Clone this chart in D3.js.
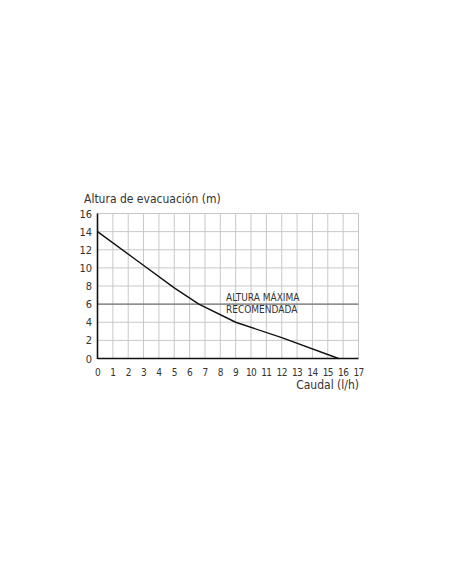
<!DOCTYPE html>
<html><head><meta charset="utf-8">
<script src="https://cdn.jsdelivr.net/npm/d3@7"></script>
<style>body{margin:0;background:#fff}svg{display:block}text{font-family:"DejaVu Sans Condensed","DejaVu Sans",sans-serif;font-stretch:condensed}</style>
</head><body><svg id="c" width="452" height="584"></svg>
<script>
const xTicks = d3.range(0, 18);
const yTicks = [0, 2, 4, 6, 8, 10, 12, 14, 16];
const flow = [0, 2.5, 5, 6.6, 9, 12, 15.7];
const head = [14, 10.9, 7.8, 6, 4, 2.3, 0];
const recommendedMax = 6;
const titleY = "Altura de evacuación (m)";
const titleX = "Caudal (l/h)";
const note = ["ALTURA MÁXIMA", "RECOMENDADA"];

const svg = d3.select("#c");
const x = d3.scaleLinear().domain([0, 17]).range([97.5, 358.5]);
const y = d3.scaleLinear().domain([0, 16]).range([358.5, 213.5]);

const g = svg.append("g");
g.selectAll(".vg").data(xTicks.slice(1)).join("line")
  .attr("x1", d => x(d)).attr("x2", d => x(d)).attr("y1", y(0)).attr("y2", y(16))
  .attr("stroke", "#c8c8c8").attr("stroke-width", 1);
g.selectAll(".hg").data(yTicks.slice(1)).join("line")
  .attr("x1", x(0)).attr("x2", x(17)).attr("y1", d => y(d)).attr("y2", d => y(d))
  .attr("stroke", "#c8c8c8").attr("stroke-width", 1);

g.append("line").attr("x1", x(0)).attr("x2", x(17)).attr("y1", y(recommendedMax)).attr("y2", y(recommendedMax))
  .attr("stroke", "#777").attr("stroke-width", 1.2);

g.append("path").datum(flow.map((f, i) => [f, head[i]]))
  .attr("d", d3.line().x(d => x(d[0])).y(d => y(d[1])))
  .attr("fill", "none").attr("stroke", "#111").attr("stroke-width", 1.4).attr("stroke-linejoin", "round");

g.append("line").attr("x1", x(0)).attr("x2", x(0)).attr("y1", y(0)+0.5).attr("y2", y(16))
  .attr("stroke", "#111").attr("stroke-width", 1.6);
g.append("line").attr("x1", x(0)).attr("x2", x(17)).attr("y1", y(0)).attr("y2", y(0))
  .attr("stroke", "#111").attr("stroke-width", 1.6);

g.selectAll(".yl").data(yTicks).join("text")
  .attr("x", 92).attr("y", d => y(d) + 4).attr("text-anchor", "end")
  .attr("font-size", 11).attr("fill", "#333").text(d => d);
g.selectAll(".xl").data(xTicks).join("text")
  .attr("x", d => x(d)).attr("y", 376).attr("text-anchor", "middle")
  .attr("font-size", 10).attr("letter-spacing", -0.6).attr("fill", "#333").text(d => d);

svg.append("text").attr("x", 84).attr("y", 203).attr("font-size", 12).attr("fill", "#333").text(titleY);
svg.append("text").attr("x", 359).attr("y", 389).attr("text-anchor", "end").attr("font-size", 12).attr("fill", "#333").text(titleX);

svg.selectAll(".note").data(note).join("text")
  .attr("x", 226).attr("y", (d, i) => 301 + i * 11.5).attr("font-size", 10).attr("fill", "#333").text(d => d);
</script></body></html>
